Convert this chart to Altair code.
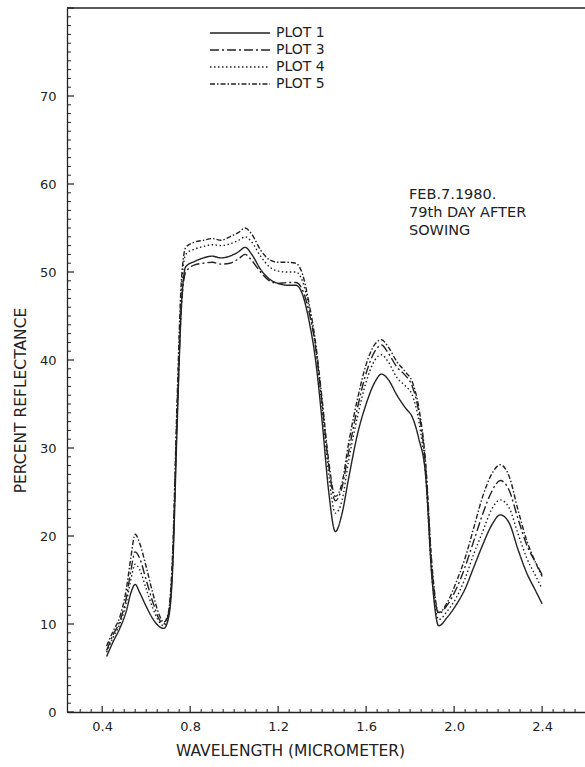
import altair as alt
import pandas as pd

# ---------------- data ----------------
wavelength = [0.42, 0.45, 0.48, 0.51, 0.53, 0.55, 0.57, 0.60, 0.63, 0.66,
              0.68, 0.70, 0.72, 0.74, 0.76, 0.78, 0.82, 0.86, 0.90, 0.94,
              0.98, 1.02, 1.05, 1.08, 1.12, 1.16, 1.20, 1.24, 1.28, 1.31,
              1.34, 1.37, 1.40, 1.43, 1.46, 1.49, 1.52, 1.56, 1.60, 1.64,
              1.67, 1.70, 1.74, 1.78, 1.81, 1.84, 1.87, 1.90, 1.93, 1.97,
              2.01, 2.05, 2.09, 2.13, 2.17, 2.21, 2.25, 2.29, 2.33, 2.37,
              2.40]

plot1 = [6.3, 8.0, 9.5, 11.5, 13.5, 14.5, 13.6, 12.0, 10.6, 9.7,
         9.5, 10.5, 16.0, 32.0, 46.0, 50.6, 51.2, 51.6, 51.8, 51.6,
         51.8, 52.3, 52.8, 52.0, 50.3, 49.2, 48.7, 48.5, 48.5, 47.5,
         44.5, 40.0, 33.0, 25.0, 20.5, 22.5, 26.5, 31.5, 35.0, 37.5,
         38.4, 37.8, 36.0, 34.5, 33.5, 31.0, 27.0, 15.0, 9.8, 10.8,
         12.2, 14.0, 16.5, 19.0, 21.2, 22.4, 21.5, 18.5, 15.8, 13.8,
         12.3]

plot3 = [7.0, 8.8, 10.3, 13.0, 16.0, 18.2, 17.5, 15.0, 12.5, 10.5,
         10.0, 11.0, 17.0, 33.0, 46.0, 50.0, 50.8, 51.0, 51.1, 50.9,
         51.0, 51.5, 52.0, 51.3, 50.0, 49.0, 48.7, 48.8, 48.8, 48.0,
         45.5, 41.5, 35.0, 28.0, 24.0, 25.5, 29.5, 34.5, 38.5, 41.0,
         41.7, 40.8, 39.2, 38.2, 37.0, 34.0, 28.0, 16.0, 11.2, 12.2,
         14.0, 16.5, 19.5, 22.5, 25.0, 26.3, 25.2, 22.0, 19.0, 17.0,
         15.6]

plot4 = [6.8, 8.5, 10.0, 12.5, 15.0, 16.8, 16.2, 14.0, 11.8, 10.2,
         9.8, 10.8, 17.0, 34.0, 48.0, 52.0, 52.6, 52.9, 53.1, 53.0,
         53.2, 53.6, 54.0, 53.4, 51.8, 50.6, 50.1, 50.0, 50.0, 49.0,
         46.0, 41.5, 34.5, 27.0, 22.6, 24.0, 28.5, 33.5, 37.5, 40.0,
         40.6, 39.8, 38.0, 37.0, 36.0, 33.0, 27.0, 15.0, 10.5, 11.5,
         13.0, 15.2, 18.0, 20.5, 23.0, 24.1, 23.2, 20.3, 17.5, 15.5,
         14.0]

plot5 = [7.5, 9.2, 10.8, 14.0, 17.5, 20.2, 19.2, 16.5, 13.5, 11.0,
         10.2, 11.2, 18.0, 35.0, 49.0, 52.8, 53.4, 53.6, 53.8, 53.6,
         54.0, 54.5, 55.0, 54.3, 52.5, 51.4, 51.1, 51.1, 51.0, 49.8,
         46.5, 42.0, 35.5, 28.5, 24.5, 26.0, 30.5, 35.5, 39.5, 41.8,
         42.3, 41.5, 39.8, 38.6, 37.5, 34.5, 28.5, 16.5, 11.3, 12.5,
         14.8, 17.5, 21.0, 24.5, 27.0, 28.1, 26.8, 23.0, 19.5, 17.0,
         15.4]

series_names = ["PLOT 1", "PLOT 3", "PLOT 4", "PLOT 5"]
dash_patterns = [[1, 0], [9, 3, 2, 3], [1.5, 2.5], [5, 2, 1.5, 2]]

y_labels = [0, 10, 20, 30, 40, 50, 60, 70]
x_labels = [0.4, 0.8, 1.2, 1.6, 2.0, 2.4]
y_minor = [v for v in range(0, 81) if v % 10 != 0]
x_minor = [v / 100 for v in range(30, 260, 5) if v % 40 != 0]

annotation = ["FEB.7.1980.", "79th DAY AFTER", "SOWING"]
x_title = "WAVELENGTH (MICROMETER)"
y_title = "PERCENT REFLECTANCE"

# ---------------- build ----------------
rows = []
for name, vals in zip(series_names, [plot1, plot3, plot4, plot5]):
    for w, v in zip(wavelength, vals):
        rows.append({"wavelength": w, "reflectance": v, "series": name})
df = pd.DataFrame(rows)

W, H = 518, 704
FONT = "DejaVu Sans"
INK = "#222222"

xscale = alt.Scale(domain=[0.24, 2.595], nice=False, zero=False)
yscale = alt.Scale(domain=[0, 80], nice=False)

lines = alt.Chart(df).mark_line(
    strokeWidth=1.4, color=INK, interpolate="monotone"
).encode(
    x=alt.X("wavelength:Q", scale=xscale,
            axis=alt.Axis(values=x_labels, format=".1f", ticks=False, grid=False,
                          title=x_title, titleX=223, titleY=38,
                          titleAlign="center", titleBaseline="middle")),
    y=alt.Y("reflectance:Q", scale=yscale,
            axis=alt.Axis(values=y_labels, ticks=False, grid=False,
                          title=y_title, titleAngle=270, titleX=-47, titleY=392,
                          titleAlign="center", titleBaseline="middle")),
    strokeDash=alt.StrokeDash("series:N",
                              scale=alt.Scale(domain=series_names, range=dash_patterns),
                              legend=None),
    detail="series:N",
)

layers = [lines]

# inward ticks (share the scales, no axes of their own)
y_major_df = pd.DataFrame({"v": y_labels + [80]})
y_minor_df = pd.DataFrame({"v": y_minor})
x_major_df = pd.DataFrame({"v": x_labels})
x_minor_df = pd.DataFrame({"v": x_minor})

layers.append(alt.Chart(y_major_df).mark_rule(color=INK, strokeWidth=1.2).encode(
    y=alt.Y("v:Q", scale=yscale), x=alt.value(0), x2=alt.value(7)))
layers.append(alt.Chart(y_minor_df).mark_rule(color=INK, strokeWidth=1).encode(
    y=alt.Y("v:Q", scale=yscale), x=alt.value(0), x2=alt.value(4)))
layers.append(alt.Chart(x_major_df).mark_rule(color=INK, strokeWidth=1.2).encode(
    x=alt.X("v:Q", scale=xscale), y=alt.value(H), y2=alt.value(H - 6)))
layers.append(alt.Chart(x_minor_df).mark_rule(color=INK, strokeWidth=1).encode(
    x=alt.X("v:Q", scale=xscale), y=alt.value(H), y2=alt.value(H - 3)))

# top frame line
layers.append(alt.Chart(pd.DataFrame({"a": [0]})).mark_rule(color=INK, strokeWidth=1.3).encode(
    x=alt.value(0), x2=alt.value(W), y=alt.value(0)))

# legend (drawn by hand)
legend_rows = [25, 42, 59, 76]
for name, dash, ry in zip(series_names, dash_patterns, legend_rows):
    ldf = pd.DataFrame({"label": [name]})
    layers.append(alt.Chart(ldf).mark_rule(color=INK, strokeWidth=1.4, strokeDash=dash).encode(
        x=alt.value(143), x2=alt.value(203), y=alt.value(ry)))
    layers.append(alt.Chart(ldf).mark_text(
        align="left", baseline="middle", font=FONT, fontSize=14, color=INK
    ).encode(x=alt.value(209), y=alt.value(ry), text="label:N"))

# annotation
layers.append(alt.Chart(pd.DataFrame({"a": [0]})).mark_text(
    text=annotation, align="left", baseline="top", font=FONT, fontSize=14.5,
    color=INK, lineHeight=18
).encode(x=alt.value(342), y=alt.value(180)))

chart = alt.layer(*layers).properties(
    width=W, height=H,
    background="white",
    autosize=alt.AutoSizeParams(type="none"),
    padding={"left": 67, "top": 8, "right": 0, "bottom": 55},
).configure_view(
    stroke=None
).configure_axis(
    grid=False,
    domainColor=INK, domainWidth=1.3,
    labelFont=FONT, labelFontSize=13, labelColor=INK,
    titleFont=FONT, titleFontSize=15.5, titleFontWeight="normal", titleColor=INK,
).configure_axisX(labelPadding=8).configure_axisY(labelPadding=11)

chart.save("out.html", embed_options={"renderer": "svg", "actions": False})
